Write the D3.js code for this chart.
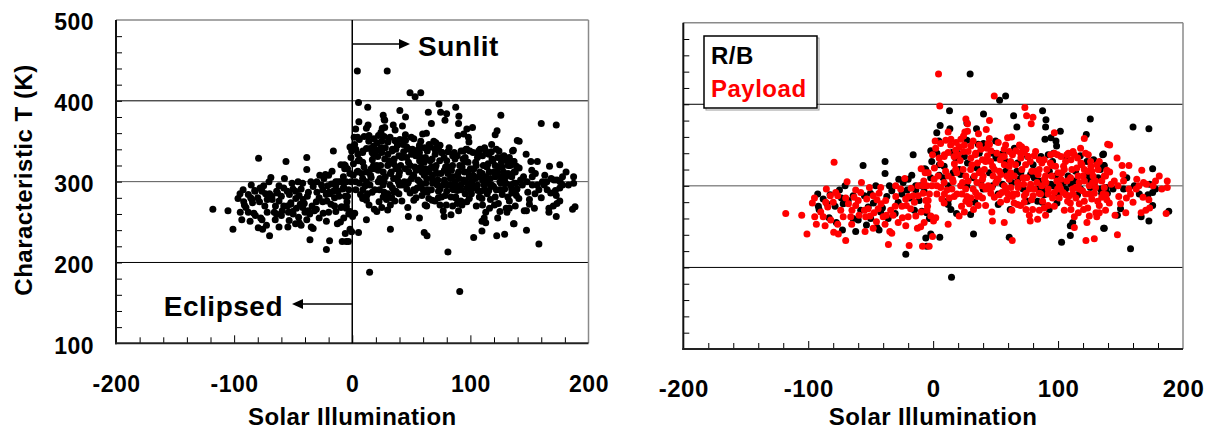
<!DOCTYPE html>
<html>
<head>
<meta charset="utf-8">
<script src="https://cdn.jsdelivr.net/npm/d3@7"></script>
<style>
    body { margin: 0; background: #fff; }
    svg text { font-family: "Liberation Sans", Arial, sans-serif; font-weight: bold; }
</style>
</head>
<body>
<svg id="chart" width="1206" height="430"></svg>
<script>
// axis values
const xDomain = [-200, 200];
const yDomain = [100, 500];
const xTicks = [-200, -100, 0, 100, 200];
const yTicks = [100, 200, 300, 400, 500];
const gridValues = [200, 300, 400];

// [solar illumination, characteristic T]
const rbPoints = [
    [29.6,437],[53.2,405],[58,410],[13.1,392],[27,377],[40.3,388],[64.4,386],[67,372],[87.6,392],[90.3,381],
    [90,372],[125.8,382],[101.8,367],[89.5,357],[94.3,359],[98.3,355],[98.8,349],[96.4,340],[122.6,363],[135.7,338],
    [137,325],[5.6,374],[2.9,365],[13.4,370],[34.7,370],[4.5,355],[27,356],[36.1,351],[40.3,352],[50,355],
    [65,346],[-1.9,343],[-1.1,330],[8.8,324],[15.2,341],[19.5,340],[27.5,328],[36.9,340],[50.2,334],[58.2,330],
    [67.6,328],[75.6,336],[86.3,336],[92.1,338],[95.6,330],[106.3,334],[117.8,337],[123.1,330],[128.5,332],[133.8,320],
    [138.6,298],[-5.9,320],[4.8,313],[12,300],[20.8,320],[23.5,302],[32.3,310],[47.5,300],[51.5,308],[55.6,302],
    [52.1,277],[61.7,271],[70.2,316],[75.6,281],[80.9,310],[88.9,289],[94.3,302],[99.1,279],[104.4,304],[110.3,302],
    [115.6,289],[125.8,298],[134.9,291],[109.8,251],[111.7,255],[136.5,248],[109.8,239],[102.8,231],[-5.1,267],[-1.9,241],
    [5.3,237],[-5.1,226],[12,277],[14.2,271],[18.7,266],[32.3,241],[33.4,280],[60.9,237],[83.6,281],[92.9,271],
    [87.3,280],[14.7,188],
    [158,223],[160,372],[172.7,370],[136.4,339],[136.4,325],[152.4,296],[139.5,291],[137,248],[147.5,264],[175.7,321],
    [173.3,302],[172,289],[175.7,292],[175.7,276],[166.5,262],[172.7,257],[188.6,269],[161,300],
    [-91.9,275],[-92.4,290],[-91.3,271],[-83.3,261],[-82.5,289],[-78.5,275],[-77.5,255],[-73.4,285],[-72.6,246],[-70.5,300],
    [-64.1,260],[-62,244],[-56.1,325],[-55,288],[-53.4,252],[-50.2,291],[-45.9,300],[-47.8,279],[-44.9,249],[-43.3,246],
    [-40.6,273],[-38.5,330],[-38.5,315],[-37.1,287],[-33.1,294],[-30.4,266],[-27.5,308],[-21.9,216],[-20.8,295],[-18.7,285],
    [-17.1,313],[-16,338],[-13.9,295],[-11.2,282],[-9.1,269],[-7.2,293],[-5.9,236],[-6.7,321],[-20,308],
    [3,340],[8,310],[18,334],[22,314],[27,300],[35,322],[40,296],[45,316],[52,290],[56,340],
    [63,304],[67,318],[72,296],[80,326],[85,306],[93,318],[96,300],[100,290],[108,312],[113,306],
    [118,296],[123,312],[129,300],[134,296],[-10,300],[-25,290],[-35,300],[12,282],[30,265],[88,296],
    [-85,278],[-68,282],[-58,270],[-50,260],[-42,268],[-28,280],[-15,270],[-3,260],[-60,258],[-75,295],
    [5,326],[16,316],[25,336],[38,304],[48,340],[58,318],[68,308],[78,314],[84,296],[98,312],
    [106,296],[114,318],[126,306],[132,310],[144,296],[155,310],[165,290],[178,296],[150,272],[-88,284],
    [-72,278],[-64,288],[-52,274],[-36,260],[-24,304],[-14,300],[-2,310]
];

const payloadPoints = [
    [4.3,437],[48.9,410],[5.3,398],[26.2,382],[45.1,380],[73.4,396],[74.8,386],[79.9,384],[78.5,376],[97,365],
    [121,358],[139.7,351],[139,319],[12,366],[27.5,367],[25.4,366],[36.3,364],[42.5,369],[27.5,376],[1.6,355],
    [10.1,356],[14.2,357],[18.4,353],[22.2,357],[24.3,361],[30.2,349],[38.2,345],[45.1,351],[52.1,353],[59.6,359],
    [62.8,360],[56.9,345],[70.8,348],[74.3,345],[66.2,343],[-0.5,338],[4.8,334],[8.8,336],[12,341],[16.8,336],
    [21.6,331],[24.3,342],[30.2,334],[33.7,338],[35.5,328],[39.5,332],[43.5,337],[46.2,343],[47.6,324],[53.7,332],
    [56.9,336],[60.9,324],[63.5,338],[70.2,334],[72.9,341],[77.7,330],[80.9,337],[84.9,320],[88.9,332],[93.8,328],
    [99.6,338],[102.3,336],[104.4,324],[108.2,340],[110.3,332],[113,338],[115.6,334],[118.3,328],[121,320],[124.2,338],
    [126.3,324],[131.1,326],[137,312],[138.4,289],
    [-4,316],[0.8,308],[8.8,304],[6.1,298],[15.5,308],[19,316],[23.5,304],[26.2,312],[27,287],[35,304],
    [36.9,316],[39.5,308],[42.2,296],[46.2,291],[50.2,304],[54.2,314],[53,289],[58.2,296],[60.9,308],[62.2,298],
    [63.5,287],[64.8,279],[67.6,304],[72.4,302],[74.3,291],[78.3,298],[78.8,283],[83.1,304],[84.9,291],[87.6,281],
    [90.3,304],[92.1,296],[95.6,285],[97,275],[99.6,296],[100.9,285],[102.3,308],[106.3,289],[107.6,281],[109.8,279],
    [111.6,296],[114.3,285],[116.9,304],[119.6,294],[121,281],[123.7,273],[127.7,304],[129,291],[131.7,281],[137,298],
    [139,283],[130.3,267],[125,263],[123.1,255],[120.4,271],[113,249],[110.3,271],[116.2,267],[133,267],[122.3,233],
    [129,235],
    [-5.1,300],[-4.5,275],[-1.9,263],[0.3,257],[2.1,261],[-0.5,238],[-3.2,226],[8.8,279],[16.8,287],[20.8,263],
    [22.7,275],[12,253],[32.3,271],[30.2,285],[26.2,281],[35.5,287],[39.5,285],[47.5,257],[56.9,255],[59,283],
    [63.3,233],[67.6,277],[72.9,280],[77.7,257],[83.6,259],[79.6,271],[88.9,273],[74.3,271],
    [141.3,350],[141.3,317],[147.2,334],[151.2,325],[156.7,325],[145,306],[152.4,306],[156.7,296],[148.6,287],[154.7,285],
    [142.5,302],[141,279],[147.5,240],[145.6,264],[154.2,267],[167,319],[181,312],[168.4,304],[170.8,302],[187.4,306],
    [187.4,298],[172.7,283],[173.3,273],[170.2,270],[166.5,267],[186.5,266],[162.5,296],[164.7,300],
    [-118,266],[-105.2,264],[-101,241],[-96.7,279],[-94.8,262],[-93.5,253],[-86.5,251],[-85.5,296],[-84.4,274],[-82.3,288],
    [-79.3,329],[-79.6,243],[-76.4,288],[-76.4,253],[-75.9,241],[-70,233],[-68.9,305],[-67.8,278],[-65.2,253],[-63.3,286],
    [-59.3,264],[-57.4,304],[-54.5,244],[-53.2,284],[-52.1,272],[-51,298],[-50.5,263],[-47.3,267],[-45.4,256],[-43.3,291],
    [-41.7,278],[-38.5,253],[-37.4,264],[-35.8,228],[-34.7,244],[-33.1,242],[-32,264],[-30.4,275],[-29.9,287],[-24.6,261],
    [-21.4,276],[-21.9,251],[-19.2,227],[-19.8,287],[-17.6,297],[-16,288],[-13.9,263],[-12.6,248],[-9.6,321],[-9.6,268],
    [-8,291],[-6.4,316],[-7.5,306],[-5.9,282],[-8.5,226],[-7.2,255],[-22.7,309],
    [2,346],[6,327],[10,318],[14,350],[17,327],[3,290],[7,284],[11,295],[16,305],[19,290],
    [4,312],[9,338],[13,285],[18,344],[1,322],[21,348],[24,320],[26,296],[28,342],[31,326],
    [33,312],[34,292],[37,350],[38,318],[22,300],[29,278],[36,276],[39,300],[25,268],[32,355],
    [41,320],[43,346],[44,300],[46,330],[48,312],[49,286],[51,340],[53,318],[55,292],[57,326],
    [58,350],[42,276],[47,268],[54,280],[59,312],[45,358],[61,342],[62,316],[64,290],[66,326],
    [68,298],[69,350],[71,320],[73,288],[75,310],[76,336],[78,302],[79,318],[63,270],[70,276],
    [77,264],[81,296],[82,342],[84,314],[86,290],[87,328],[89,308],[91,320],[92,276],[94,338],
    [95,312],[97,292],[98,324],[85,270],[90,264],[99,306],[101,300],[103,316],[104,292],[106,330],
    [107,306],[109,288],[111,320],[112,342],[114,298],[116,312],[117,278],[119,326],[105,270],[113,262],
    [118,346],[121,306],[122,290],[124,318],[125,300],[127,284],[128,312],[130,298],[132,320],[133,276],
    [135,306],[136,290],[138,270],[126,330],[131,262],
    [-60,282],[-55,270],[-45,283],[-40,262],[-30,300],[-25,275],[-15,280],[-12,300],[-5,270],[-3,290],
    [-28,255],[-48,248],[-65,270],[-88,262],[-80,280],[-72,262],[-62,295],[-42,298],[-20,262],[-10,250],
    [3,300],[6,352],[9,290],[12,312],[15,296],[18,320],[20,338],[23,290],[25,350],[28,306],
    [30,320],[32,296],[34,340],[37,288],[40,312],[42,330],[44,352],[47,298],[49,320],[52,308],
    [55,336],[57,300],[60,290],[62,330],[65,312],[67,290],[70,340],[72,310],[74,326],[77,296],
    [80,288],[82,318],[85,332],[87,300],[90,312],[92,290],[95,325],[97,340],[100,316],[102,296],
    [105,320],[107,338],[110,310],[112,290],[115,322],[117,296],[120,312],[122,340],[125,290],[127,318],
    [130,306],[133,330],[135,286],[138,312],[148,300],[152,314],[158,290],[163,308],[168,286],[176,300],
    [183,296],[150,278],[160,280],[178,306],[-95,285],[-90,268],[-86,280],[-82,258],[-78,292],[-74,270],
    [-70,285],[-66,262],[-62,276],[-58,292],[-54,262],[-48,288],[-44,272],[-38,282],[-34,270],[-26,296],
    [-22,284],[-18,272],[-12,288],[-8,300],[-4,282],[-1,300]
];

// seen only in the left panel
const unclassifiedPoints = [[91,164],[81,213]];

const legendLabels = ["R/B", "Payload"];
const seriesColors = ["#000000", "#ff0000"];

class ScatterPanel {

    constructor(_config, _series) {
        this.config = _config;
        this.series = _series;
        this.initVis();
    }

    initVis() {
        let vis = this;
        const c = vis.config;

        vis.svg = d3.select(c.parentElement);
        vis.chart = vis.svg.append("g");

        vis.xScale = d3.scaleLinear().domain(xDomain).range([c.left, c.right]);
        vis.yScale = d3.scaleLinear().domain(yDomain).range([c.bottom, c.top]);

        vis.renderVis();
    }

    renderVis() {
        let vis = this;
        const c = vis.config;
        const x = vis.xScale, y = vis.yScale;

        // grid lines
        vis.chart.selectAll(".grid")
            .data(gridValues)
            .join("line")
            .attr("class", "grid")
            .attr("x1", c.left).attr("x2", c.right)
            .attr("y1", d => y(d)).attr("y2", d => y(d))
            .attr("stroke", d => d === 300 ? "#555" : "#000")
            .attr("stroke-width", 1);

        // dots
        vis.series.forEach(s => {
            vis.chart.append("g")
                .selectAll("circle")
                .data(s.points)
                .join("circle")
                .attr("cx", d => x(d[0]))
                .attr("cy", d => y(d[1]))
                .attr("r", 3.5)
                .attr("fill", s.color);
        });

        // tick marks
        const minorX = d3.range(-180, 200, 20).filter(d => d % 100 !== 0);
        const tickStyle = g => {
            g.select(".domain").remove();
            g.selectAll("line").attr("stroke", "#000").attr("stroke-width", 1);
        };
        vis.chart.append("g")
            .attr("transform", `translate(0,${c.bottom})`)
            .call(d3.axisBottom(x).tickValues(minorX).tickSize(-6).tickFormat(""))
            .call(tickStyle);
        vis.chart.append("g")
            .attr("transform", `translate(0,${c.bottom})`)
            .call(d3.axisBottom(x).tickValues([-100, 0, 100]).tickSize(-8).tickFormat(""))
            .call(tickStyle);
        vis.chart.append("g")
            .attr("transform", `translate(${c.left},0)`)
            .call(d3.axisLeft(y).tickValues(d3.range(120, 500, 20)).tickSize(-6).tickFormat(""))
            .call(tickStyle);

        // frame: dark left/bottom, grey top/right
        vis.chart.append("line")
            .attr("x1", c.left).attr("x2", c.right).attr("y1", c.top).attr("y2", c.top)
            .attr("stroke", "#8a8a8a").attr("stroke-width", 1.5);
        vis.chart.append("line")
            .attr("x1", c.right).attr("x2", c.right).attr("y1", c.top).attr("y2", c.bottom)
            .attr("stroke", "#8a8a8a").attr("stroke-width", 1.5);
        vis.chart.append("line")
            .attr("x1", c.left).attr("x2", c.left).attr("y1", c.top).attr("y2", c.bottom + 1)
            .attr("stroke", "#111").attr("stroke-width", 2);
        vis.chart.append("line")
            .attr("x1", c.left - 1).attr("x2", c.right).attr("y1", c.bottom).attr("y2", c.bottom)
            .attr("stroke", "#222").attr("stroke-width", 2);

        // x tick labels
        vis.chart.append("g")
            .attr("transform", `translate(0,${c.xLabelBaseline})`)
            .call(d3.axisBottom(x).tickValues(xTicks).tickSize(0).tickFormat(d => String(d)))
            .call(g => g.select(".domain").remove())
            .call(g => g.selectAll("text")
                .attr("y", 0).attr("dy", null)
                .style("font-size", c.tickFont + "px")
                .style("letter-spacing", "0.5px")
                .attr("fill", "#000"));

        // y tick labels
        if (c.showYLabels) {
            vis.chart.append("g")
                .attr("transform", `translate(${c.left - 22},2.5)`)
                .call(d3.axisLeft(y).tickValues(yTicks).tickSize(0).tickPadding(0).tickFormat(d => String(d)))
                .call(g => g.select(".domain").remove())
                .call(g => g.selectAll("text")
                    .style("font-size", "23px")
                    .style("letter-spacing", "0.5px")
                    .attr("fill", "#000"));

            vis.chart.append("text")
                .attr("text-anchor", "middle")
                .attr("transform", `translate(32,180) rotate(-90)`)
                .style("font-size", "24px")
                .style("letter-spacing", "0.5px")
                .text("Characteristic T (K)");
        }

        // axis title
        vis.chart.append("text")
            .attr("text-anchor", "middle")
            .attr("x", (c.left + c.right) / 2)
            .attr("y", c.titleBaseline)
            .style("font-size", "24px")
            .style("letter-spacing", "0.4px")
            .text("Solar Illumination");

        if (c.annotate) vis.renderAnnotations();
        if (c.legend) vis.renderLegend();
    }

    renderAnnotations() {
        let vis = this;
        const c = vis.config;
        const x0 = vis.xScale(0);

        vis.chart.append("line")
            .attr("x1", x0).attr("x2", x0).attr("y1", c.top).attr("y2", c.bottom)
            .attr("stroke", "#000").attr("stroke-width", 1.5);

        const arrow = (yPos, tip, dir) => {
            vis.chart.append("line")
                .attr("x1", x0).attr("x2", tip - dir * 8).attr("y1", yPos).attr("y2", yPos)
                .attr("stroke", "#000").attr("stroke-width", 1.5);
            vis.chart.append("path")
                .attr("d", `M${tip},${yPos} L${tip - dir * 11},${yPos - 5} L${tip - dir * 11},${yPos + 5} Z`)
                .attr("fill", "#000");
        };

        arrow(44, 410, 1);
        vis.chart.append("text")
            .attr("x", 418).attr("y", 56)
            .style("font-size", "28px")
            .style("letter-spacing", "0.5px")
            .text("Sunlit");

        arrow(304, 292, -1);
        vis.chart.append("text")
            .attr("x", 283).attr("y", 316)
            .attr("text-anchor", "end")
            .style("font-size", "28px")
            .style("letter-spacing", "0.5px")
            .text("Eclipsed");
    }

    renderLegend() {
        let vis = this;
        const bx = 704, by = 36, bw = 113, bh = 72;

        vis.chart.append("rect")
            .attr("x", bx + 2).attr("y", by + 2).attr("width", bw).attr("height", bh)
            .attr("fill", "none").attr("stroke", "#999").attr("stroke-width", 1);
        vis.chart.append("rect")
            .attr("x", bx).attr("y", by).attr("width", bw).attr("height", bh)
            .attr("fill", "#fff").attr("stroke", "#000").attr("stroke-width", 1.5);

        vis.chart.selectAll(".legend-label")
            .data(legendLabels)
            .join("text")
            .attr("class", "legend-label")
            .attr("x", 711)
            .attr("y", (d, i) => 64 + i * 33)
            .attr("fill", (d, i) => seriesColors[i])
            .style("font-size", "24px")
            .style("letter-spacing", "0.5px")
            .text(d => d);
    }
}

const allPoints = rbPoints.concat(payloadPoints, unclassifiedPoints);

new ScatterPanel({
    parentElement: "#chart",
    left: 116, right: 588.5, top: 20, bottom: 343.3,
    xLabelBaseline: 392, titleBaseline: 424.5, tickFont: 23,
    showYLabels: true, annotate: true, legend: false
}, [{ points: allPoints, color: "#000000" }]);

new ScatterPanel({
    parentElement: "#chart",
    left: 683.3, right: 1183, top: 22.7, bottom: 349,
    xLabelBaseline: 396.5, titleBaseline: 424.5, tickFont: 24,
    showYLabels: false, annotate: false, legend: true
}, [
    { points: rbPoints, color: seriesColors[0] },
    { points: payloadPoints, color: seriesColors[1] }
]);
</script>
</body>
</html>
